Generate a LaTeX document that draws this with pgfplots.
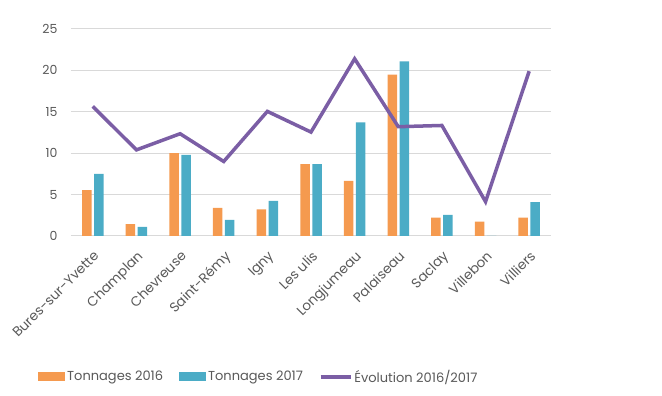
\documentclass[border=0pt]{standalone}
\usepackage{fontspec}
\setmainfont{Poppins}
\usepackage{pgfplots}
\pgfplotsset{compat=1.18}
\definecolor{orng}{HTML}{F59A4F}
\definecolor{blu}{HTML}{4BACC6}
\definecolor{purp}{HTML}{7B5EA5}
\definecolor{gridc}{HTML}{D9D9D9}
\definecolor{txt}{HTML}{595959}
\pgfplotstableread{
x t16 t17 evo
0 5.53 7.50 15.65
1 1.42 1.09 10.40
2 10.00 9.80 12.35
3 3.39 1.94 9.00
4 3.23 4.24 15.05
5 8.68 8.68 12.55
6 6.66 13.72 21.40
7 19.50 21.10 13.20
8 2.22 2.54 13.35
9 1.73 0 4.15
10 2.22 4.08 19.90
}\datatable
\begin{document}
\begin{tikzpicture}
\path[use as bounding box] (0pt,0pt) rectangle (662pt,396pt);
\begin{axis}[
  at={(71pt,160pt)}, anchor=south west,
  scale only axis, width=480pt, height=207pt,
  xmin=-0.5, xmax=10.5, ymin=0, ymax=25,
  ytick={0,5,...,25},
  xtick={0,...,10},
  xticklabels={Bures-sur-Yvette,Champlan,Chevreuse,Saint-Rémy,Igny,Les ulis,Longjumeau,Palaiseau,Saclay,Villebon,Villiers},
  x tick label style={rotate=45, anchor=north east, font=\fontsize{13.5}{15}\selectfont, text=txt},
  xticklabel shift=9pt,
  y tick label style={font=\fontsize{12.5}{14}\selectfont, text=txt, xshift=-10pt},
  /pgf/number format/assume math mode=true,
  major tick length=0pt,
  axis x line*=bottom, axis y line*=left,
  x axis line style={gridc, line width=1pt, -},
  y axis line style={draw=none},
  ymajorgrids, grid style={gridc, line width=1pt},
  legend columns=3,
  legend style={at={(-0.075,-0.68)}, anchor=west, draw=none, font=\fontsize{13}{15}\selectfont, text=txt,
    /tikz/every even column/.append style={column sep=14pt}},
  clip=false,
]
\addplot[ybar, bar width=9.5pt, bar shift=-6pt, fill=orng, draw=none,
  legend image code/.code={\fill[orng] (0pt,-4.5pt) rectangle (27pt,4.5pt);}] table[x=x,y=t16] {\datatable};
\addlegendentry{Tonnages 2016}
\addplot[ybar, bar width=9.5pt, bar shift=6pt, fill=blu, draw=none,
  legend image code/.code={\fill[blu] (0pt,-4.5pt) rectangle (27pt,4.5pt);}] table[x=x,y=t17] {\datatable};
\addlegendentry{Tonnages 2017}
\addplot[purp, line width=3.5pt, mark=none, line join=miter,
  legend image code/.code={\draw[purp, line width=3.5pt] (0pt,0pt) -- (30pt,0pt);}] table[x=x,y=evo] {\datatable};
\addlegendentry{Évolution 2016/2017}
\end{axis}
\end{tikzpicture}
\end{document}
